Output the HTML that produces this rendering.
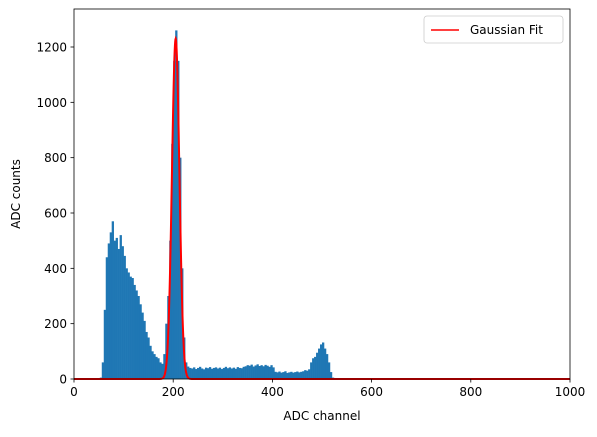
<!DOCTYPE html>
<html><head><meta charset="utf-8"><style>
body{margin:0;background:#fff;font-family:"Liberation Sans","DejaVu Sans",sans-serif;}
svg text{font-family:"DejaVu Sans","Liberation Sans",sans-serif;font-size:12px;fill:#000}
</style></head><body>
<svg id="c" width="597" height="432" xmlns="http://www.w3.org/2000/svg"></svg>
<script>
const binStart = 52;
const binWidth = 4;
const counts = [5,60,250,440,490,530,570,500,510,470,520,480,445,400,385,370,365,340,320,300,270,240,210,170,150,120,100,90,80,75,60,55,90,200,300,500,850,1150,1260,1150,800,400,150,60,
45,40,38,42,36,40,44,38,35,41,39,43,37,40,42,38,41,36,40,44,39,42,38,41,37,43,40,39,44,
46,50,48,52,45,49,53,47,50,46,51,48,44,50,42,
26,24,27,23,25,28,22,24,26,23,25,27,24,26,28,32,30,35,
60,75,80,95,110,125,132,110,90,60,25,5,0];
const fitMean = 205, fitSigma = 7.5, fitAmp = 1230;
const xTicks = [0,200,400,600,800,1000];
const yTicks = [0,200,400,600,800,1000,1200];
const X0=74,X1=570,Y0=379,Y1=9;
const xs = v => X0 + v*(X1-X0)/1000;
const ys = v => Y0 - v*(379-47)/1200;
const svg = document.getElementById('c');
const NS='http://www.w3.org/2000/svg';
function mk(t,a){const e=document.createElementNS(NS,t);for(const k in a)e.setAttribute(k,a[k]);svg.appendChild(e);return e;}
counts.forEach((c,i)=>{
  const x=xs(binStart+i*binWidth), w=xs(binStart+(i+1)*binWidth)-x;
  const r=mk('rect',{x:x,y:ys(c),width:w+0.3,height:Y0-ys(c),fill:'#1f77b4'});
  
  
});
let d='';
for(let v=0;v<=1000;v+=0.5){const y=fitAmp*Math.exp(-((v-fitMean)**2)/(2*fitSigma*fitSigma));d+=(v?'L':'M')+xs(v).toFixed(2)+' '+ys(y).toFixed(2);}
const fl=mk('path',{d:d,fill:'none',stroke:'#ff0000','stroke-width':2});


const fr=mk('rect',{x:X0,y:Y1,width:X1-X0,height:Y0-Y1,fill:'none',stroke:'#000','stroke-width':0.8});


xTicks.forEach(t=>{
  mk('line',{x1:xs(t),x2:xs(t),y1:Y0,y2:Y0+3.5,stroke:'#000','stroke-width':0.8});
  const tx=mk('text',{x:xs(t),y:Y0+17,'text-anchor':'middle'});tx.textContent=t;
  
  
});
yTicks.forEach(t=>{
  mk('line',{x1:X0-3.5,x2:X0,y1:ys(t),y2:ys(t),stroke:'#000','stroke-width':0.8});
  const tx=mk('text',{x:X0-7,y:ys(t)+4.5,'text-anchor':'end'});tx.textContent=t;
  
  
});
const xt=mk('text',{x:322,y:420,'text-anchor':'middle'});xt.textContent='ADC channel';


const yt=mk('text',{x:0,y:0,'text-anchor':'middle',transform:'translate(20,194) rotate(-90)'});yt.textContent='ADC counts';


const lg=mk('rect',{x:424,y:16,width:139,height:27,rx:3,fill:'#fff',stroke:'#ccc','stroke-width':0.8});


mk('line',{x1:431,x2:459,y1:30,y2:30,stroke:'#ff0000','stroke-width':1.5});
const lt=mk('text',{x:470,y:34});lt.textContent='Gaussian Fit';


</script>
</body></html>
